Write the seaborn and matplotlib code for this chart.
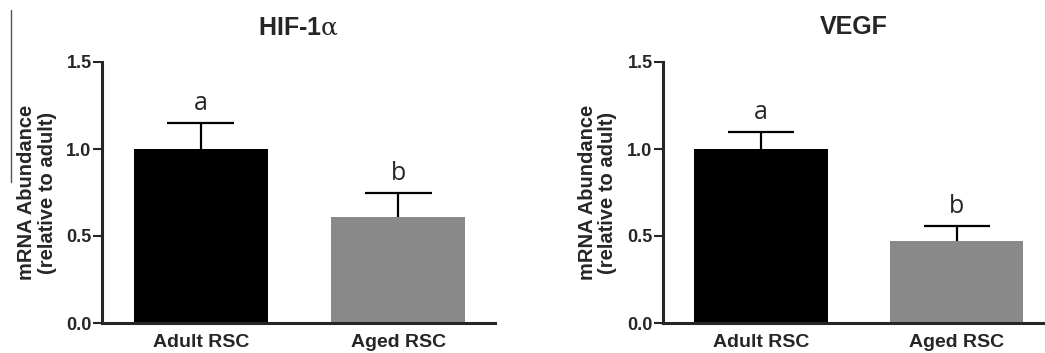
import pandas as pd
import matplotlib
matplotlib.use("Agg")
import matplotlib.pyplot as plt
import seaborn as sns
from matplotlib.lines import Line2D

# -------------------------------
# data
# -------------------------------
groups = ["Adult RSC", "Aged RSC"]
letters = ["a", "b"]

hif_mean = [1.00, 0.61]
hif_sem = [0.15, 0.14]

vegf_mean = [1.00, 0.47]
vegf_sem = [0.10, 0.09]

bar_colors = ["#000000", "#898989"]

panels = [
    ("HIF-1$\\mathrm{\\alpha}$", hif_mean, hif_sem),
    ("VEGF", vegf_mean, vegf_sem),
]

# -------------------------------
# style
# -------------------------------
sns.set_style("ticks")
plt.rcParams['font.family'] = ['Liberation Sans', 'DejaVu Sans']
plt.rcParams['mathtext.fontset'] = 'dejavuserif'

fig = plt.figure(figsize=(10.45, 3.53), dpi=100)

# axes boxes in figure fractions (left, bottom, width, height)
boxes = [
    (102 / 1045, 30 / 353, 393 / 1045, 261 / 353),
    (663 / 1045, 30 / 353, 382 / 1045, 261 / 353),
]
xlims = [(-0.5, 1.49), (-0.5, 1.45)]
label_x = [-0.115, -0.12]

for (title, means, sems), box, xl, lx in zip(panels, boxes, xlims, label_x):
    ax = fig.add_axes(box)
    df = pd.DataFrame({"group": groups, "value": means})

    sns.barplot(data=df, x="group", y="value", hue="group", palette=bar_colors,
                width=0.68, errorbar=None, legend=False, edgecolor="none", ax=ax)

    # upper-only error bars (stem + cap)
    tops = [m + s for m, s in zip(means, sems)]
    ax.vlines([0, 1], means, tops, color="black", linewidth=1.6, zorder=3)
    ax.hlines(tops, [-0.17, 0.83], [0.17, 1.17], color="black",
              linewidth=1.6, zorder=3)

    # significance letters
    for i, (t, let) in enumerate(zip(tops, letters)):
        ax.text(i, t + 0.04, let, ha="center", va="bottom",
                fontsize=18, family=['Open Sans', 'DejaVu Sans'])

    ax.set_ylim(0, 1.5)
    ax.set_xlim(*xl)
    ax.set_yticks([0.0, 0.5, 1.0, 1.5])
    ax.set_yticklabels(["0.0", "0.5", "1.0", "1.5"])
    ax.tick_params(axis="y", length=6.5, width=1.5, labelsize=13, pad=1)
    ax.tick_params(axis="x", length=0, labelsize=14, pad=8)
    for lab in ax.get_xticklabels() + ax.get_yticklabels():
        lab.set_fontweight("bold")

    sns.despine(ax=ax)
    ax.spines["left"].set_linewidth(2.2)
    ax.spines["bottom"].set_linewidth(2.2)

    ax.set_xlabel("")
    ax.set_ylabel("mRNA Abundance\n(relative to adult)", fontsize=14.5,
                  fontweight="bold", linespacing=1.1)
    ax.yaxis.set_label_coords(lx, 0.5)
    ax.set_title(title, fontsize=18, fontweight="bold", pad=20)

# thin stray rule at the far left of the original figure
fig.add_artist(Line2D([11 / 1045, 11 / 1045], [1 - 10 / 353, 1 - 182 / 353],
                      color="#555555", linewidth=1.0))

fig.savefig("out.png", dpi=100)
